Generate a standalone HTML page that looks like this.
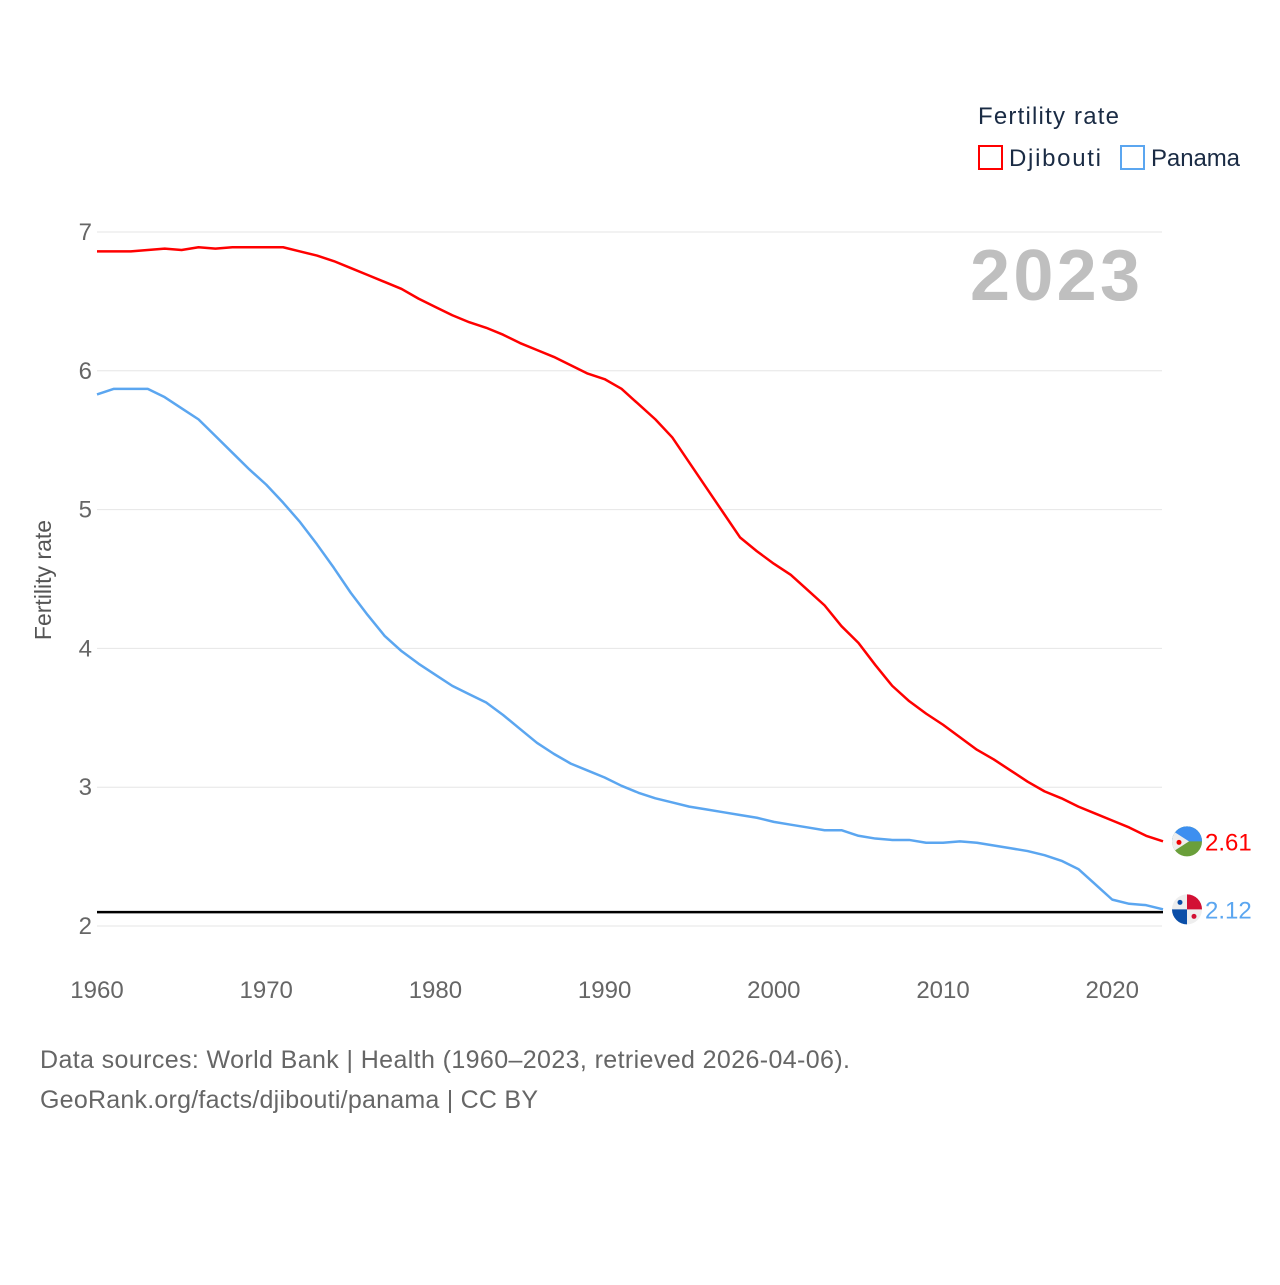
<!DOCTYPE html>
<html><head><meta charset="utf-8"><style>
body{margin:0;background:#fff;font-family:"Liberation Sans",sans-serif}
svg text{font-family:"Liberation Sans",sans-serif}
</style></head><body>
<svg id="chart" width="1280" height="1280" xmlns="http://www.w3.org/2000/svg">
<text x="978" y="124" font-size="24" fill="#1a2b44" textLength="141">Fertility rate</text>
<g><rect x="979" y="146" width="23" height="23" fill="none" stroke="#f00" stroke-width="2"/><text x="1009" y="166" font-size="24" fill="#1a2b44" textLength="92">Djibouti</text></g>
<g><rect x="1121" y="146" width="23" height="23" fill="none" stroke="#5ba6f0" stroke-width="2"/><text x="1151" y="166" font-size="24" fill="#1a2b44" textLength="89">Panama</text></g>
<text x="970" y="300" font-size="72" font-weight="bold" fill="#bfbfbf" textLength="170">2023</text>
<text transform="translate(51,580) rotate(-90)" font-size="23" fill="#555" text-anchor="middle">Fertility rate</text>
<g id="grid"></g><g id="lines"></g>
<text x="40" y="1068" font-size="25" fill="#666" textLength="810">Data sources: World Bank | Health (1960–2023, retrieved 2026-04-06).</text>
<text x="40" y="1108" font-size="25" fill="#666" textLength="498">GeoRank.org/facts/djibouti/panama | CC BY</text>
</svg>
<script>
const years=[];for(let y=1960;y<=2023;y++)years.push(y);
const yTicks=[2,3,4,5,6,7];
const xTicks=[1960,1970,1980,1990,2000,2010,2020];
const replacement=[2.1];
const djibouti=[6.86,6.86,6.86,6.87,6.88,6.87,6.89,6.88,6.89,6.89,6.89,6.89,6.86,6.83,6.79,6.74,6.69,6.64,6.59,6.52,6.46,6.40,6.35,6.31,6.26,6.20,6.15,6.10,6.04,5.98,5.94,5.87,5.76,5.65,5.52,5.34,5.16,4.98,4.80,4.70,4.61,4.53,4.42,4.31,4.16,4.04,3.88,3.73,3.62,3.53,3.45,3.36,3.27,3.20,3.12,3.04,2.97,2.92,2.86,2.81,2.76,2.71,2.65,2.61];
const panama=[5.83,5.87,5.87,5.87,5.81,5.73,5.65,5.53,5.41,5.29,5.18,5.05,4.91,4.75,4.58,4.40,4.24,4.09,3.98,3.89,3.81,3.73,3.67,3.61,3.52,3.42,3.32,3.24,3.17,3.12,3.07,3.01,2.96,2.92,2.89,2.86,2.84,2.82,2.80,2.78,2.75,2.73,2.71,2.69,2.69,2.65,2.63,2.62,2.62,2.60,2.60,2.61,2.60,2.58,2.56,2.54,2.51,2.47,2.41,2.30,2.19,2.16,2.15,2.12];
const X=y=>97+(y-1960)*(1163-97)/63;
const Y=v=>926-(v-2)*138.8;
const NS="http://www.w3.org/2000/svg";
const grid=document.getElementById('grid'),lines=document.getElementById('lines');
function mk(tag,attrs,parent){const e=document.createElementNS(NS,tag);for(const k in attrs)e.setAttribute(k,attrs[k]);parent.appendChild(e);return e;}
yTicks.forEach(t=>{
 const l=mk('line',{x1:97,x2:1162,y1:Y(t),y2:Y(t),stroke:'#e6e6e6','stroke-width':1},grid);
 
 
 const tx=mk('text',{x:92,y:Y(t)+8,'font-size':24,fill:'#666','text-anchor':'end'},grid);tx.textContent=t;
 
 
});
xTicks.forEach(t=>{
 const tx=mk('text',{x:X(t),y:998,'font-size':24,fill:'#666','text-anchor':'middle'},grid);tx.textContent=t;
 
 
});
const rl=mk('line',{x1:97,x2:1163,y1:Y(replacement[0]),y2:Y(replacement[0]),stroke:'#000','stroke-width':2.5},lines);


function series(vals,color,name){
 const p=mk('polyline',{points:vals.map((v,i)=>X(years[i])+','+Y(v)).join(' '),fill:'none',stroke:color,'stroke-width':2.5,'stroke-linejoin':'round'},lines);
 
 
 const last=vals[vals.length-1];
 const t=mk('text',{x:1205,y:Y(last)+9,'font-size':24,fill:color},lines);t.textContent=last.toFixed(2);
 
 
 return Y(last);
}
const yd=series(djibouti,'#f00','djibouti');
const yp=series(panama,'#5ba6f0','panama');
const cx=1187;
let g=mk('g',{},lines);


mk('circle',{cx:cx,cy:yd,r:15,fill:'#6a9f3a'},g);
mk('path',{d:`M${cx-15},${yd} A15,15 0 0 1 ${cx+15},${yd} Z`,fill:'#3d8ff0'},g);
mk('path',{d:`M${cx-12},${yd-9} L${cx+2},${yd} L${cx-12},${yd+9} A15,15 0 0 1 ${cx-12},${yd-9} Z`,fill:'#eee'},g);
mk('circle',{cx:cx-8,cy:yd+1,r:2.5,fill:'#e00'},g);
g=mk('g',{},lines);


mk('circle',{cx:cx,cy:yp,r:15,fill:'#eee'},g);
mk('path',{d:`M${cx},${yp} L${cx},${yp-15} A15,15 0 0 1 ${cx+15},${yp} Z`,fill:'#d21034'},g);
mk('path',{d:`M${cx},${yp} L${cx},${yp+15} A15,15 0 0 1 ${cx-15},${yp} Z`,fill:'#0a4ea8'},g);
mk('circle',{cx:cx-7,cy:yp-7,r:2.5,fill:'#0a4ea8'},g);
mk('circle',{cx:cx+7,cy:yp+7,r:2.5,fill:'#d21034'},g);
</script>
</body></html>
